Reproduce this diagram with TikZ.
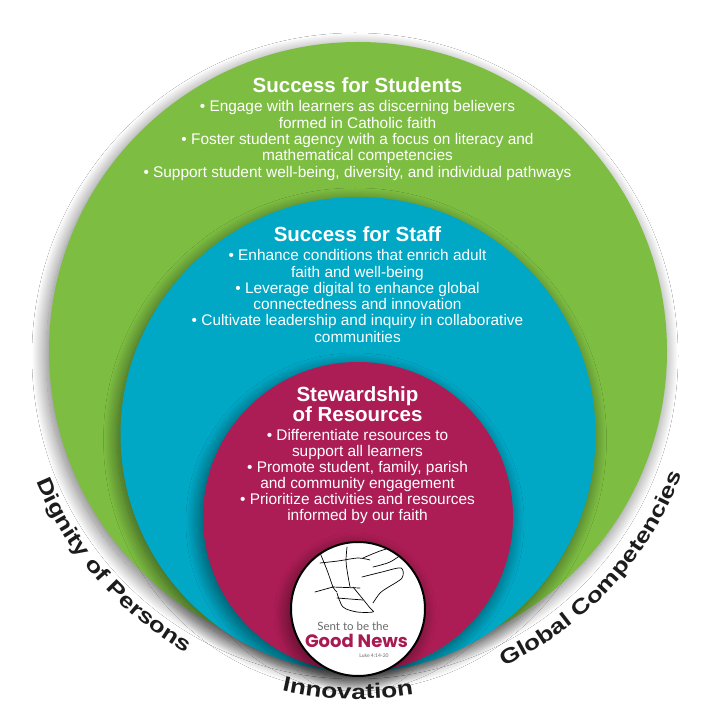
\documentclass[tikz,border=0pt]{standalone}
\usepackage{fontspec}
\setmainfont{Liberation Sans}
\newfontfamily\ringfont[FakeStretch=1.25]{Liberation Sans}
\newfontfamily\logofont{Poppins}
\newfontfamily\sentfont{Lato}
\usetikzlibrary{positioning,shadows.blur,decorations.text}

\definecolor{studgreen}{HTML}{7DBE42}
\definecolor{staffblue}{HTML}{00A8C6}
\definecolor{stewred}{HTML}{AD1D55}
\definecolor{newsred}{HTML}{A81A52}
\definecolor{ringgray}{HTML}{1C1C1C}
\definecolor{sentgray}{HTML}{6A6A6A}

\newcommand{\ringtext}{\ringfont\bfseries\fontsize{21}{21}\selectfont}

\begin{document}
\begin{tikzpicture}[x=1pt, y=1pt,
    ring/.style={circle, inner sep=0pt, blur shadow={shadow blur radius=14pt, shadow blur steps=40, shadow xshift=-3pt, shadow yshift=-5pt, shadow opacity=55}},
    heading/.style={text=white, font=\bfseries\fontsize{20.5}{20}\selectfont, align=center, inner sep=0pt},
    bullets/.style={text=white, font=\fontsize{15.4}{16.3}\selectfont, align=center, inner sep=0pt},
    sketch/.style={black, line width=0.7pt, line cap=round, line join=round},
    curved/.style={decorate, decoration={text along path, text align=center, text color=ringgray}}]

    \fill[white] (0,0) rectangle (715,715);
    \useasboundingbox (0,0) rectangle (715,715);

    \node [ring, fill=studgreen, minimum size=618pt](1) at (358,364) {};
    \node [ring, fill=staffblue, minimum size=475pt](2) at (358,280.5) {};
    \node [ring, fill=stewred, minimum size=310pt](3) at (358,198) {};
    \node [ring, fill=white, draw=black, line width=2pt, minimum size=134pt](4) at (358,106) {};

    % circle texts
    \node [heading](5) at (357.5,629.5) {Success for Students};
    \node [bullets, node distance=55pt](6) [below of = 5]{%
        • Engage with learners as discerning believers\\
        formed in Catholic faith\\
        • Foster student agency with a focus on literacy and\\
        mathematical competencies\\
        • Support student well-being, diversity, and individual pathways};

    \node [heading](7) at (357.5,480.5) {Success for Staff};
    \node [bullets, node distance=61.5pt](8) [below of = 7]{%
        • Enhance conditions that enrich adult\\
        faith and well-being\\
        • Leverage digital to enhance global\\
        connectedness and innovation\\
        • Cultivate leadership and inquiry in collaborative\\
        communities};

    \node [heading](9) at (357.5,310.5) {Stewardship\\of Resources};
    \node [bullets, font=\fontsize{15.4}{16}\selectfont, node distance=72.5pt](10) [below of = 9]{%
        • Differentiate resources to\\
        support all learners\\
        • Promote student, family, parish\\
        and community engagement\\
        • Prioritize activities and resources\\
        informed by our faith};

    % logo
    \begin{scope}
        \clip (4.center) circle[radius=66pt];
        \draw[sketch] plot[smooth] coordinates {(318,167) (327,145) (333,128) (337,123)};
        \draw[sketch] plot[smooth] coordinates {(347,168) (346,155) (347,145) (350,128)};
        \draw[sketch] plot[smooth] coordinates {(320,152) (338,154) (358,157) (370,155)};
        \draw[sketch] plot[smooth] coordinates {(363,157) (380,164) (400,170)};
        \draw[sketch] plot[smooth] coordinates {(373,148) (390,153) (405,163)};
        \draw[sketch] plot[smooth] coordinates {(362,138) (382,143) (401,147) (402,137) (387,127) (380,122) (373,112)};
        \draw[sketch] plot[smooth] coordinates {(337,122) (343,108) (357,103) (373,103) (370,107) (362,117) (353,128)};
        \draw[sketch] (332,128) -- (360,127);
        \draw[sketch] (337,117) -- (363,115);
        \draw[sketch] (315,123) -- (333,128);
    \end{scope}
    \node [anchor=base, text=sentgray, font=\sentfont\fontsize{11.5}{11.5}\selectfont, inner sep=0pt](11) at (353,84) {Sent to be the};
    \node [anchor=base, text=newsred, font=\logofont\bfseries\fontsize{18}{18}\selectfont, inner sep=0pt](12) at (356.5,67) {Good News};
    \node [anchor=base, text=sentgray, font=\sentfont\fontsize{5}{5}\selectfont, inner sep=0pt](13) at (374,57) {Luke 4:14-20};

    % texts round the rim
    \path[curved, decoration={text={|\ringtext|Dignity of Persons}}]
        (1.center) ++(186:347pt) arc[start angle=186, end angle=256.4, radius=347pt];
    \path[curved, decoration={text={|\ringtext|Innovation}}]
        (1.center) ++(243:348pt) arc[start angle=243, end angle=293.6, radius=348pt];
    \path[curved, decoration={text={|\ringtext|Global Competencies}}]
        (1.center) ++(285:347pt) arc[start angle=285, end angle=349, radius=347pt];
\end{tikzpicture}
\end{document}
